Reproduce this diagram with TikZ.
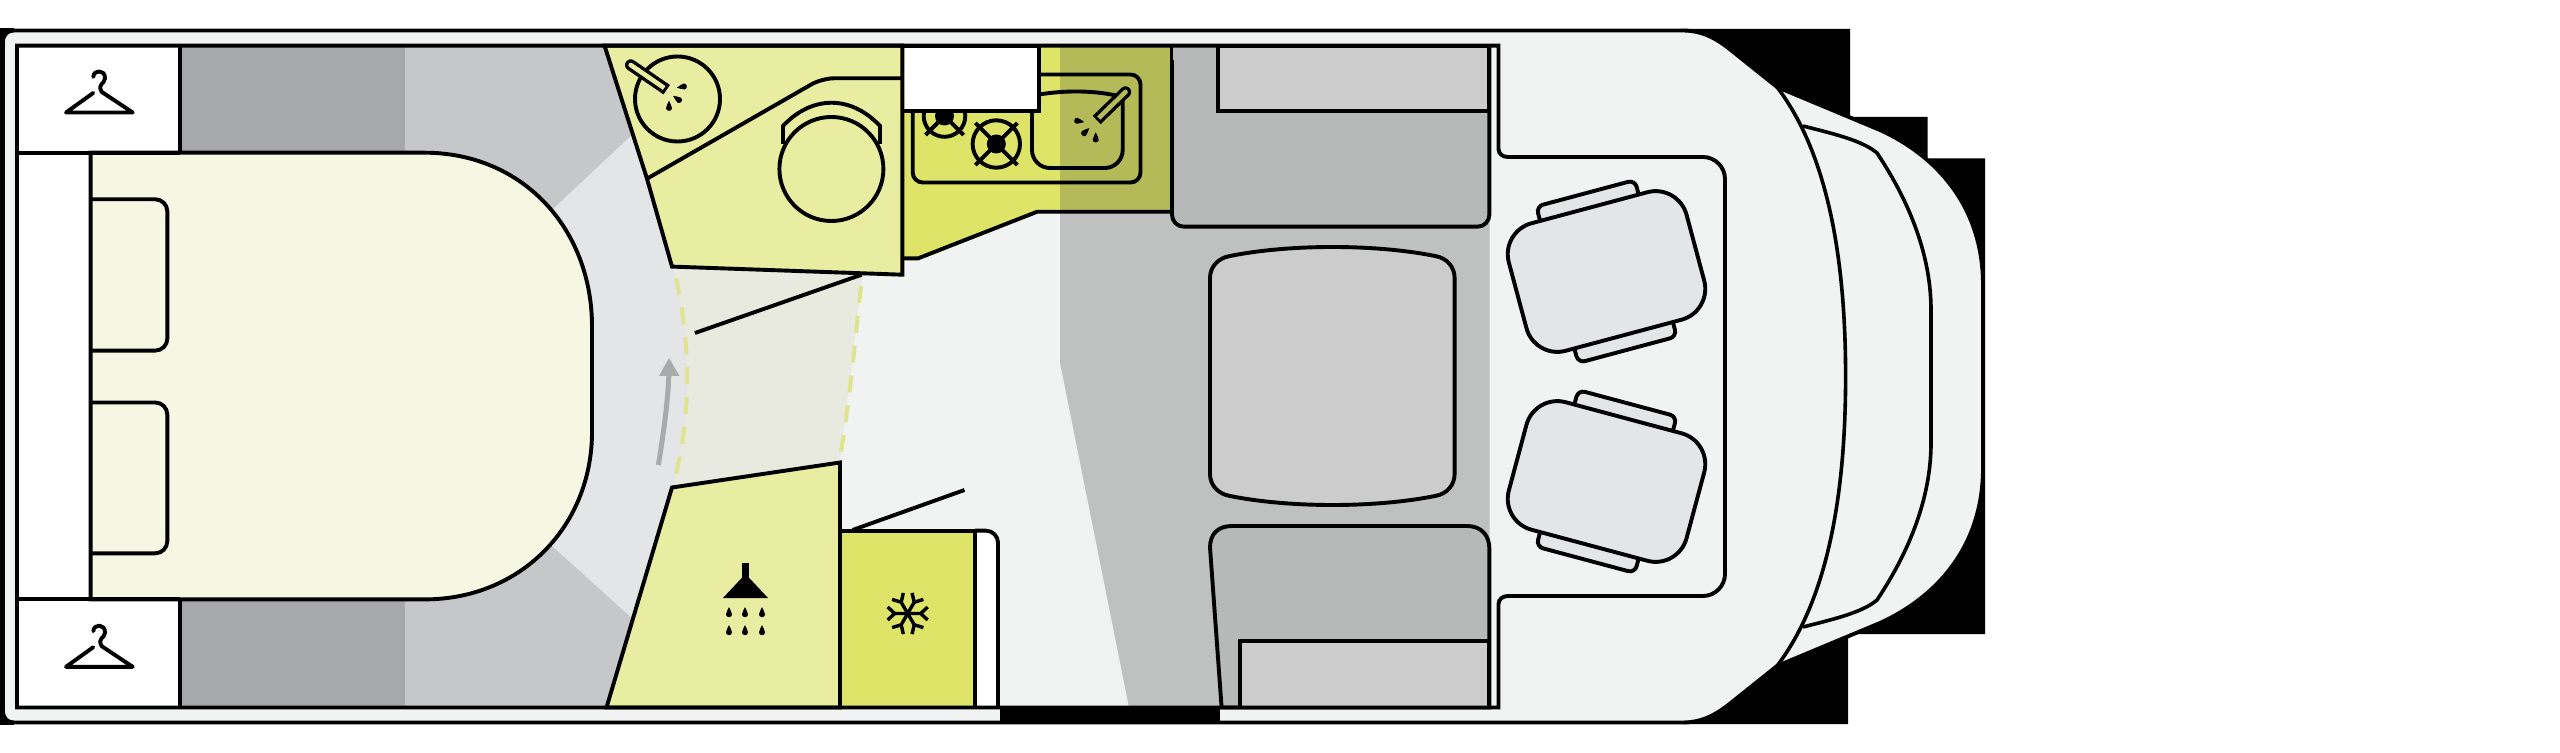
\documentclass[tikz,border=0pt]{standalone}
\usetikzlibrary{calc}
\definecolor{bodyc}{HTML}{F1F3F2}
\definecolor{bedc}{HTML}{F5F7E2}
\definecolor{washc}{HTML}{E9EDA2}
\definecolor{kitc}{HTML}{DDE468}
\definecolor{kitd}{HTML}{B3BA57}
\definecolor{cushc}{HTML}{CCCCCC}
\definecolor{blockc}{HTML}{B7B9B8}
\definecolor{floorg}{HTML}{BFC0C0}
\definecolor{reard}{HTML}{A7A8AA}
\definecolor{rearl}{HTML}{C6C7C8}
\definecolor{corr}{HTML}{E4E5E7}
\definecolor{doorz}{HTML}{E9EADF}
\definecolor{dashc}{HTML}{E0E48E}
\definecolor{arrowc}{HTML}{A9AAAA}
\tikzset{
  ln/.style={line width=1.95pt,draw=black},
  thinln/.style={line width=1.8pt,draw=black},
  doordash/.style={line width=2pt,draw=dashc,dash pattern=on 8.5pt off 6.5pt},
}
\newcommand{\hangerat}[2]{%
  \begin{scope}[shift={(#1,#2)}]
    \draw[line width=1.95pt,line cap=round,line join=round]
      (-5.7,-35.6) .. controls (-5.5,-43) and (6.5,-43.5) .. (6,-34)
      .. controls (5.5,-28) and (-2,-29) .. (2.7,-20.6)
      -- (33.7,0) -- (-33,0) -- (-5.7,-19.6);
  \end{scope}}
\newcommand{\dropat}[3]{%
  \begin{scope}[shift={(#1,#2)},rotate=#3]
    \fill (0,-6) .. controls (1,-3) and (3,-1) .. (3,1.5)
      .. controls (3,5) and (-3,5) .. (-3,1.5)
      .. controls (-3,-1) and (-1,-3) .. (0,-6) -- cycle;
  \end{scope}}
\newcommand{\faucetat}[5]{% round end, butt end, fill
  \coordinate (fa) at (#1,#2); \coordinate (fb) at (#3,#4);
  \coordinate (fm) at ($(fa)!0.5!(fb)$);
  \draw[line width=5.7pt,line cap=round] (fa) -- (fm);
  \draw[line width=5.7pt] (fm) -- (fb);
  \draw[line width=2.3pt,draw=#5,line cap=round] (fa) -- (fm);
  \draw[line width=2.3pt,draw=#5] (fm) -- ($(fa)!0.93!(fb)$);}
\newcommand{\burnerat}[4]{%
  \begin{scope}[shift={(#1,#2)}]
    \draw[ln] (0,0) circle (#3);
    \fill (0,0) circle (9.5);
    \draw[line width=1.95pt] (-#4,-#4) -- (#4,#4) (-#4,#4) -- (#4,-#4);
  \end{scope}}
\newcommand{\cabseat}[3]{%
  \begin{scope}[shift={(#1,#2)},rotate=#3]
    \draw[ln,fill=corr,rounded corners=3.5pt] (-51,-81) rectangle (51,-55);
    \draw[ln,fill=corr,rounded corners=3.5pt] (-51,55) rectangle (51,81);
    \draw[ln,fill=corr,rounded corners=16pt] (-92,-66) rectangle (92,66);
  \end{scope}}
\begin{document}
\begin{tikzpicture}[x=0.5pt,y=-0.5pt]
\useasboundingbox (0,0) rectangle (2560,753);
% black backing
\fill[black] (1682,29) -- (1850,29) -- (1850,117) -- (1927.5,117) -- (1927.5,158.5)
  -- (1985,158.5) -- (1985,634) -- (1848,634) -- (1848,724) -- (1682,724) -- cycle;
\fill[black] (0,28) rectangle (14,42);
\fill[black] (0,711) rectangle (14,725);
\fill[black] (0,42) rectangle (3,711);
% body
\draw[ln,fill=bodyc] (3,42) .. controls (3,34) and (8,30.5) .. (14,30.5) -- (1682,30.5)
  .. controls (1700,30.5) and (1712,36) .. (1727,47) -- (1777,87) -- (1880,130)
  .. controls (1935,155) and (1983,205) .. (1983,285) -- (1983,468)
  .. controls (1983,548) and (1935,598) .. (1880,623) -- (1777,666) -- (1727,706)
  .. controls (1712,717) and (1700,722.5) .. (1682,722.5) -- (14,722.5)
  .. controls (8,722.5) and (3,719) .. (3,711) -- cycle;
\fill[black] (1000,706) rectangle (1220,724);
% windscreen curves
\draw[thinln] (1777,87) .. controls (1825,150) and (1845.6,250) .. (1845.6,376.5)
  .. controls (1845.6,503) and (1825,603) .. (1777,666);
\draw[thinln] (1803,126) .. controls (1830,133) and (1862,140) .. (1877,153)
  .. controls (1905,195) and (1931,250) .. (1931,310) -- (1931,443)
  .. controls (1931,503) and (1905,558) .. (1877,600)
  .. controls (1862,613) and (1830,620) .. (1803,627);
% floors
\fill[bodyc] (17,45.6) rectangle (1498,707.5);
\fill[floorg] (1060,45.6) -- (1489.5,45.6) -- (1489.5,707.5) -- (1129,707.5) -- (1060,362.6) -- cycle;
\fill[reard] (182,45.6) rectangle (405,707.5);
\fill[rearl] (405,45.6) rectangle (660,707.5);
\fill[corr] (440,376.5) -- (553,209) -- (634,133) -- (672,266.6) -- (676,278)
  .. controls (690,340) and (692,410) .. (675,478) -- (672,487.5) -- (634,620) -- (551,545) -- cycle;
\fill[doorz] (672,266) -- (863,272) -- (861,286) -- (841,451.5) -- (840,462.5) -- (672,487.5) -- (675,478)
  .. controls (692,410) and (690,340) .. (676,278) -- cycle;
\draw[doordash] (676,278) .. controls (690,340) and (692,410) .. (675,478);
\draw[doordash] (861,286) .. controls (855,340) and (850,400) .. (841,451.5);
% wardrobes and white strip
\fill[white] (17,45.6) rectangle (180,707.5);
% bed
\draw[ln,fill=bedc] (90.6,152.7) -- (424.5,152.7) .. controls (522,152.7) and (592,228) .. (592,326.6)
  -- (592,432) .. controls (592,525) and (522,599.4) .. (424.5,599.4) -- (90.6,599.4) -- cycle;
\draw[ln,rounded corners=6pt] (90.6,199.3) -- (167.3,199.3) -- (167.3,350.6) -- (90.6,350.6);
\draw[ln,rounded corners=6pt] (90.6,402.5) -- (167.3,402.5) -- (167.3,553.3) -- (90.6,553.3);
\draw[ln] (17,152.7) -- (180,152.7) (17,599.4) -- (180,599.4) (180,45.6) -- (180,152.7) (180,599.4) -- (180,707.5);
\hangerat{99}{112.5}
\hangerat{99}{666.8}
% arrow
\draw[line width=2.5pt,draw=arrowc] (658.4,465) .. controls (664,430) and (668,400) .. (669,372);
\fill[arrowc] (669,358) -- (679.5,376) -- (659,376) -- cycle;
% kitchen
\fill[kitc] (902.4,45.6) -- (1060,45.6) -- (1060,211.8) -- (1037,211.8) -- (918,258.4) -- (902.4,258.4) -- cycle;
\fill[kitd] (1059.5,45.6) rectangle (1171,211.8);
\draw[ln] (902.4,258.4) -- (918,258.4) -- (1037,211.8) -- (1171,211.8);
\draw[ln,rounded corners=5pt] (912.7,100) -- (912.7,182.5) -- (1140.5,182.5) -- (1140.5,74.5) -- (1030,74.5);
\draw[ln,rounded corners=9pt] (1032,105) -- (1032,168) -- (1122.7,168) -- (1122.7,92);
\draw[ln] (1036,95) .. controls (1065,90) and (1095,90) .. (1122.7,97);
\burnerat{996.3}{144}{23.7}{21}
\burnerat{944.5}{116}{20.8}{19}
\faucetat{1125.5}{92}{1096.7}{120}{kitd}
\dropat{1078.3}{121}{-100}
\dropat{1085}{132.3}{-45}
\dropat{1095.7}{138.3}{0}
\draw[ln,fill=white] (902.4,45.6) rectangle (1039,111.4);
% upper wash room
\draw[ln,fill=washc] (604.5,45.6) -- (902.4,45.6) -- (902.4,274.7) -- (672,266.6) -- (647,178.7) -- cycle;
\draw[ln,rounded corners=6pt] (647,178.7) -- (822,78.3) -- (902.4,78.3);
\draw[ln] (677.5,99) circle (42.5);
\faucetat{630.7}{65}{666.7}{89.7}{washc}
\dropat{682.7}{86.7}{100}
\dropat{678}{99.3}{55}
\dropat{669}{106.7}{0}
\draw[ln] (783,144) -- (783,126) .. controls (812,95) and (851,95) .. (880,126) -- (880,144);
\draw[ln,fill=washc] (831.4,169) circle (52);
% doors
\draw[ln] (695,333) -- (861.6,274.7);
\draw[ln] (852.6,530) -- (964.5,490);
% shower room
\draw[ln,fill=washc] (672,487.5) -- (840,462.5) -- (840,707.5) -- (606.5,707.5) -- cycle;
\fill (742,563) rectangle (749,580);
\fill (745.5,574) -- (768,598) -- (723,598) -- cycle;
\foreach \dx in {729,745,762} {\dropat{\dx}{613}{0} \dropat{\dx}{631}{0}}
% fridge
\fill[white] (975,530.7) rectangle (998,707.5);
\draw[ln,fill=kitc] (840,530.7) -- (975,530.7) -- (975,707.5) -- (840,707.5) -- cycle;
\draw[ln,rounded corners=6pt] (975,530.7) -- (998,530.7) -- (998,707.5);
\begin{scope}[shift={(907.7,613.5)}]
  \foreach \a in {0,60,120,180,240,300} {
    \draw[line width=1.7pt,rotate=\a] (0,0) -- (13,0) (20,-6.5) -- (13,0) -- (20,6.5);
  }
\end{scope}
% dinette
\draw[ln,fill=blockc,rounded corners=6pt] (1172,45.6) -- (1172,226.7) -- (1489.4,226.7) -- (1489.4,45.6);
\fill[blockc] (1173,45.6) rectangle (1488,60);
\draw[ln,fill=cushc] (1489.4,111.4) -- (1218,111.4) -- (1218,45.6) -- (1489.4,45.6) -- cycle;
\draw[ln,fill=cushc] (1230,256) .. controls (1290,244) and (1375,244) .. (1435,256)
  .. controls (1447,258) and (1454.6,267) .. (1454.6,278) -- (1454.6,474)
  .. controls (1454.6,485) and (1447,494) .. (1435,496)
  .. controls (1375,508) and (1290,508) .. (1230,496)
  .. controls (1218,494) and (1210,485) .. (1210,474) -- (1210,278)
  .. controls (1210,267) and (1218,258) .. (1230,256) -- cycle;
\draw[ln,fill=blockc] (1210,547.5) .. controls (1210,534) and (1218,526) .. (1232,526) -- (1467,526)
  .. controls (1481,526) and (1489.4,535) .. (1489.4,549) -- (1489.4,707.5) -- (1221.6,707.5) -- cycle;
\draw[ln,fill=cushc] (1240,707.5) -- (1240,641) -- (1489.4,641) -- (1489.4,707.5) -- cycle;
% cab seats
\cabseat{1606.5}{271.5}{15}
\cabseat{1606.5}{481.5}{-15}
% inner frame
\draw[ln] (1498.5,45.6) -- (1498.5,149) .. controls (1498.5,154) and (1503,157) .. (1508,157)
  -- (1703,157) .. controls (1715,157) and (1725,167) .. (1725,179) -- (1725,574)
  .. controls (1725,586) and (1715,596) .. (1703,596) -- (1508,596)
  .. controls (1503,596) and (1498.5,599) .. (1498.5,604) -- (1498.5,707.5)
  -- (17,707.5) -- (17,45.6) -- cycle;
\end{tikzpicture}
\end{document}
